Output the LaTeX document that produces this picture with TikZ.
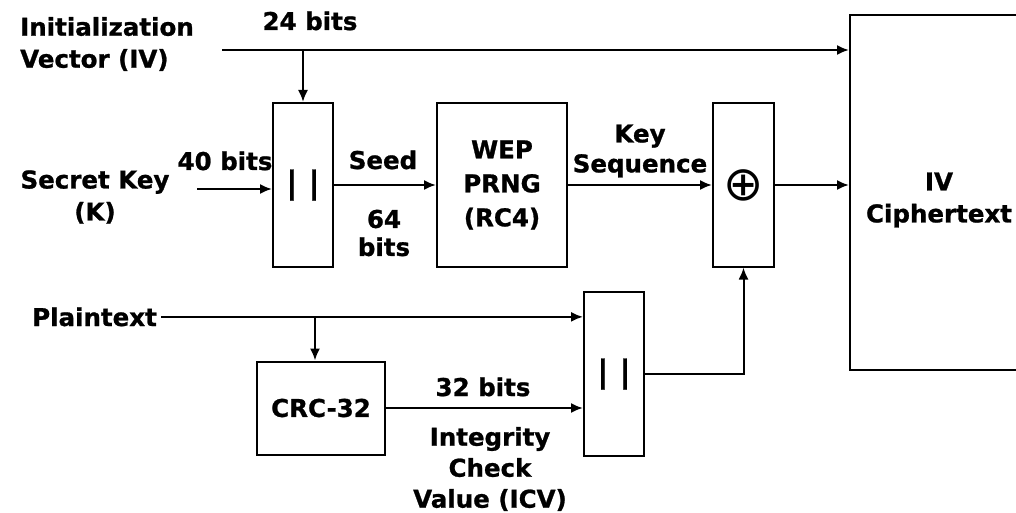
\documentclass[tikz,border=0pt]{standalone}
\usepackage{fontspec}
\setmainfont{DejaVu Sans}[BoldFeatures={FakeBold=1}]
\usetikzlibrary{arrows.meta}
\begin{document}
\begin{tikzpicture}[x=1pt,y=-1pt,
  every node/.style={font=\bfseries\fontsize{24.5}{32}\selectfont, inner sep=0pt},
  blk/.style={draw, line width=2pt},
  arr/.style={line width=2pt, -{Latex[length=12pt,width=10pt]}}]
\useasboundingbox (0,0) rectangle (1016,513);
\clip (0,0) rectangle (1016,513);
% blocks
\node[blk, minimum width=60pt, minimum height=164pt] (cat1) at (303,185)
  {\fontsize{31}{31}\selectfont | |};
\node[blk, minimum width=130pt, minimum height=163pt, align=center,
  font=\bfseries\fontsize{24.5}{34}\selectfont] (wep) at (502,185) {WEP\\PRNG\\(RC4)};
\node[blk, minimum width=61pt, minimum height=163pt] (xor) at (743.5,185)
  {\mdseries\fontsize{48}{48}\selectfont ⊕};
\node[blk, minimum width=180pt, minimum height=355pt] (cipher) at (940,192.5) {};
\node[blk, minimum width=60pt, minimum height=164pt] (cat2) at (614,374)
  {\fontsize{31}{31}\selectfont | |};
\node[blk, minimum width=128pt, minimum height=93pt] (crc) at (321,408) {CRC-32};
% labels
\node[align=left, anchor=west] (ivlab) at (20,44) {Initialization\\Vector (IV)};
\node[anchor=base] (b24) at (310,30) {24 bits};
\node[align=center] (sk) at (95,197) {Secret Key\\(K)};
\node[anchor=base] (b40) at (225,170) {40 bits};
\node[anchor=base] (seed) at (383,169) {Seed};
\node[align=center, font=\bfseries\fontsize{24.5}{28}\selectfont] (b64) at (384,233) {64\\bits};
\node[align=center, font=\bfseries\fontsize{24.5}{30}\selectfont] (kseq) at (640,151) {Key\\Sequence};
\node[align=center] (ivc) at (939,200) {IV\\Ciphertext};
\node[anchor=base east] (pt) at (157,326) {Plaintext};
\node[anchor=base] (b32) at (483,396) {32 bits};
\node[align=center, font=\bfseries\fontsize{24.5}{31}\selectfont] (icv) at (490,469) {Integrity\\Check\\Value (ICV)};
% connectors
\coordinate (ivs) at (222,50);
\coordinate (kst) at (197,189);
\draw[arr] (ivs) -- (ivs -| cipher.west);
\draw[arr] (cat1.north |- ivs) -- (cat1.north);
\draw[arr] (kst) -- (kst -| cat1.west);
\draw[arr] (cat1.east) -- (wep.west);
\draw[arr] (wep.east) -- (xor.west);
\draw[arr] (xor.east) -- (xor.east -| cipher.west);
\draw[arr] ([xshift=4pt]pt.east) -- (pt.east -| cat2.west);
\draw[arr] ([xshift=-6pt]crc.north |- pt.east) -- ([xshift=-6pt]crc.north);
\draw[arr] (crc.east) -- (crc.east -| cat2.west);
\draw[arr] (cat2.east) -| (xor.south);
\end{tikzpicture}
\end{document}
